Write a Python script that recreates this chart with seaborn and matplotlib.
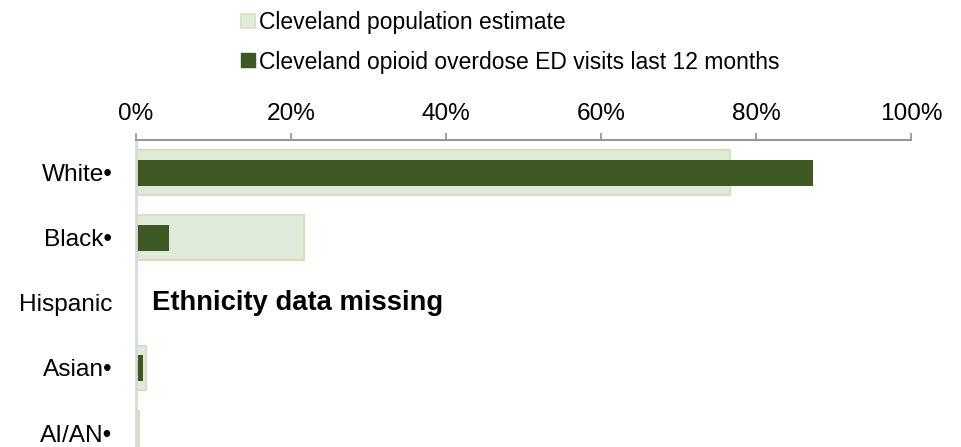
import numpy as np
import pandas as pd
import matplotlib
matplotlib.use('Agg')
import matplotlib.pyplot as plt
import seaborn as sns
from matplotlib.lines import Line2D

groups = ['White•', 'Black•', 'Hispanic', 'Asian•', 'AI/AN•']
population = [76.7, 21.7, np.nan, 1.25, 0.4]
ed_visits = [87.4, 4.2, np.nan, 0.86, 0.0]
xticks = [0, 20, 40, 60, 80, 100]
xtick_labels = ['0%', '20%', '40%', '60%', '80%', '100%']

light = '#e0eadb'
light_edge = '#d3e2bd'
dark = '#3d5823'

sns.set_style('white')
plt.rcParams['font.family'] = ['Liberation Sans', 'DejaVu Sans']
plt.rcParams['text.color'] = 'black'
plt.rcParams['xtick.labelcolor'] = 'black'
plt.rcParams['ytick.labelcolor'] = 'black'
fsize = 16.5
tsize = 17.6

df = pd.DataFrame({'group': groups, 'pop': population, 'ed': ed_visits})

fig = plt.figure(figsize=(9.61, 4.47), dpi=100)
ax = fig.add_axes([136/961, 0, 775/961, 307/447])

sns.barplot(data=df, y='group', x='pop', order=groups, orient='h', width=0.686,
            color=light, edgecolor=light_edge, linewidth=1.5, saturation=1,
            errorbar=None, ax=ax)
sns.barplot(data=df, y='group', x='ed', order=groups, orient='h', width=0.4,
            color=dark, edgecolor='none', linewidth=0, saturation=1,
            errorbar=None, ax=ax)

ax.set_xlim(0, 100)
ax.set_ylim(4.215, -0.5)
ax.xaxis.tick_top()
ax.set_xticks(xticks)
ax.set_xticklabels(xtick_labels, fontsize=tsize)
ax.tick_params(axis='x', direction='out', length=5, width=1.3, color='#999999', pad=6, top=True, bottom=False)
ax.tick_params(axis='y', length=0, pad=17, labelsize=tsize)
ax.set_xlabel('')
ax.set_ylabel('')

for s in ['right', 'bottom']:
    ax.spines[s].set_visible(False)
ax.spines['top'].set_color('#999999')
ax.spines['top'].set_linewidth(1.5)
ax.spines['left'].set_color('#d9d9d9')
ax.spines['left'].set_linewidth(2)

ax.text(2.0, 2, 'Ethnicity data missing', fontsize=19.7, fontweight='bold', va='center', ha='left')

handles = [
    Line2D([], [], marker='s', linestyle='none', markersize=10, markerfacecolor=light,
           markeredgecolor=light_edge, markeredgewidth=1.2),
    Line2D([], [], marker='s', linestyle='none', markersize=10, markerfacecolor=dark,
           markeredgecolor=dark),
]
fig.legend(handles, ['Cleveland population estimate', 'Cleveland opioid overdose ED visits last 12 months'],
           loc='upper left', bbox_to_anchor=(230/961, 1.0), frameon=False, fontsize=fsize,
           handlelength=0.6, handletextpad=0.15, labelspacing=0.7, borderaxespad=0.1)

fig.savefig('out.png', dpi=100)
